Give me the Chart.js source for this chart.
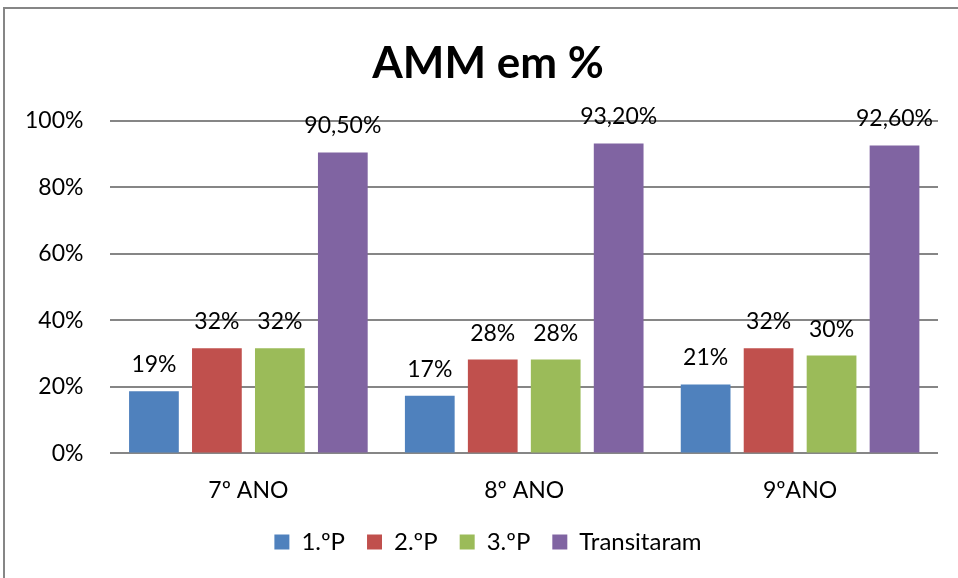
<!DOCTYPE html>
<html>
<head>
<meta charset="utf-8">
<script src="https://cdn.jsdelivr.net/npm/chart.js@4.4.0/dist/chart.umd.min.js"></script>
<style>
  body { margin: 0; background: #fff; }
  #frame {
    position: absolute; left: 3px; top: 7px;
    width: 960px; height: 580px;
    border-left: 2px solid #868686; border-top: 2px solid #868686;
  }
  #wrap { position: absolute; left: 0; top: 0; width: 958px; height: 578px; }
</style>
</head>
<body>
<div id="frame"></div>
<div id="wrap"><canvas id="myChart" width="958" height="578"></canvas></div>
<script>
var ctx = document.getElementById('myChart').getContext('2d');

const categories = ['7º ANO', '8º ANO', '9ºANO']
const seriesNames = ['1.ºP', '2.ºP', '3.ºP', 'Transitaram']
const p1 = [18.7, 17.3, 20.7]
const p2 = [31.6, 28.2, 31.6]
const p3 = [31.6, 28.2, 29.4]
const transitaram = [90.5, 93.2, 92.6]
const p1Labels = ['19%', '17%', '21%']
const p2Labels = ['32%', '28%', '32%']
const p3Labels = ['32%', '28%', '30%']
const transitaramLabels = ['90,50%', '93,20%', '92,60%']
const yTicks = [0, 20, 40, 60, 80, 100]

const colors = ['#4F81BD', '#C0504D', '#9BBB59', '#8064A2']
const values = [p1, p2, p3, transitaram]
const labelSets = [p1Labels, p2Labels, p3Labels, transitaramLabels]
const fontName = 'Lato, "Open Sans", sans-serif'

// draws the value text above each bar
const barLabels = {
  id: 'barLabels',
  afterDatasetsDraw(chart) {
    const c = chart.ctx
    c.save()
    c.fillStyle = '#000'
    c.font = '23px ' + fontName
    c.textAlign = 'center'
    c.textBaseline = 'bottom'
    chart.data.datasets.forEach((ds, i) => {
      chart.getDatasetMeta(i).data.forEach((bar, j) => {
        c.fillText(ds.labelsText[j], bar.x, bar.y - 15)
      })
    })
    c.restore()
  }
}

// nudge title and legend a bit to the right, like the original
const shiftBlocks = {
  id: 'shiftBlocks',
  afterLayout(chart) {
    if (chart.titleBlock) chart.titleBlock.left += 34
    if (chart.legend) chart.legend.left += 34
  }
}

const datasets = seriesNames.map((name, i) => ({
  label: name,
  data: values[i],
  labelsText: labelSets[i],
  backgroundColor: colors[i],
  borderWidth: 0,
  categoryPercentage: 0.913,
  barPercentage: 0.79
}))

const myChart = new Chart(ctx, {
  type: 'bar',
  data: { labels: categories, datasets: datasets },
  plugins: [barLabels, shiftBlocks],
  options: {
    responsive: false,
    animation: false,
    layout: { padding: { left: 4, right: 20, top: 37, bottom: 14 } },
    plugins: {
      title: {
        display: true,
        text: 'AMM em %',
        color: '#000',
        font: { family: fontName, size: 44, weight: 'bold' },
        padding: { top: 0, bottom: 31 }
      },
      legend: {
        position: 'bottom',
        labels: {
          color: '#000',
          font: { family: fontName, size: 24 },
          boxWidth: 15,
          boxHeight: 15,
          padding: 22
        }
      },
      tooltip: { enabled: false }
    },
    scales: {
      x: {
        grid: { display: false },
        border: { display: false },
        ticks: { color: '#000', font: { family: fontName, size: 23 }, padding: 15 },
        afterFit(axis) { axis.height -= 11 }
      },
      y: {
        min: 0,
        max: 100,
        afterBuildTicks(axis) { axis.ticks = yTicks.map(v => ({ value: v })) },
        grid: { color: '#868686', lineWidth: 2, drawTicks: false },
        border: { display: false },
        ticks: {
          color: '#000',
          font: { family: fontName, size: 23 },
          padding: 27,
          callback: v => v + '%'
        },
        afterFit(axis) { axis.width -= 6 }
      }
    }
  }
})
</script>
</body>
</html>
